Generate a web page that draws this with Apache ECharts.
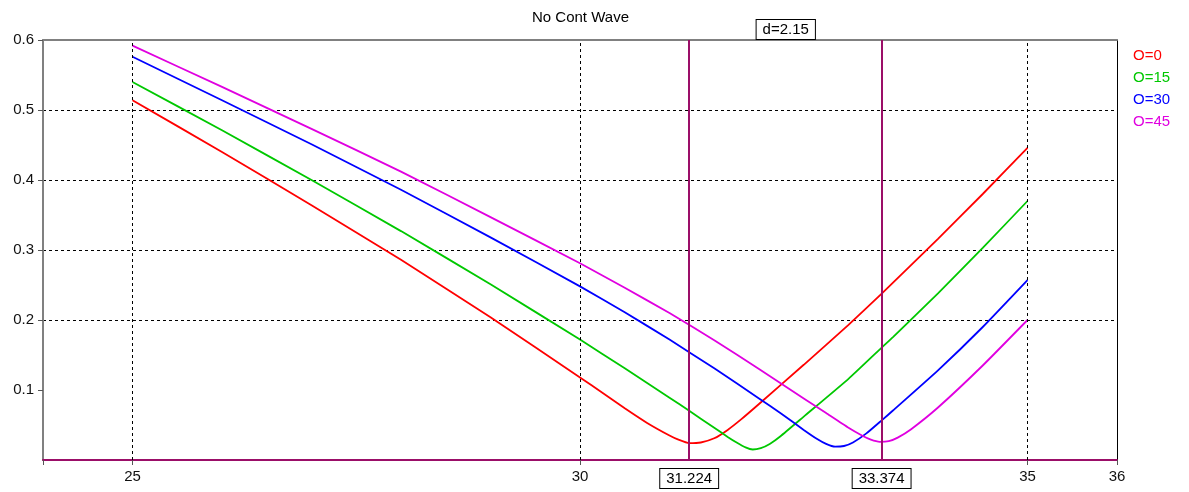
<!DOCTYPE html>
<html>
<head>
<meta charset="utf-8">
<script src="https://cdn.jsdelivr.net/npm/echarts@6/dist/echarts.min.js"></script>
<style>
html,body{margin:0;padding:0;background:#fff;}
#chart{width:1189px;height:492px;}
</style>
</head>
<body>
<div id="chart"></div>
<script>
// ---- data ----
const seriesNames = ['O=0', 'O=15', 'O=30', 'O=45'];
const seriesColors = ['#ff0000', '#00c800', '#0000ff', '#e000e0'];

const redX = [25, 26, 27, 28, 29, 30, 30.25, 30.5, 30.75, 31.0, 31.1, 31.22, 31.35, 31.5, 31.65, 31.8, 32, 32.5, 33, 33.374, 34, 34.5, 35];
const redY = [0.514, 0.440, 0.364, 0.286, 0.204, 0.118, 0.096, 0.074, 0.053, 0.035, 0.029, 0.024, 0.025, 0.031, 0.043, 0.058, 0.080, 0.136, 0.193, 0.238, 0.316, 0.380, 0.446];

const greenX = [25, 26, 27, 28, 29, 30, 30.5, 31, 31.224, 31.5, 31.65, 31.75, 31.85, 31.93, 32.02, 32.12, 32.24, 32.5, 33, 33.374, 33.5, 34, 34.5, 35];
const greenY = [0.540, 0.471, 0.400, 0.327, 0.251, 0.172, 0.131, 0.089, 0.070, 0.046, 0.033, 0.025, 0.018, 0.015, 0.017, 0.023, 0.034, 0.062, 0.116, 0.161, 0.176, 0.238, 0.303, 0.370];

const blueX = [25, 26, 27, 28, 29, 30, 30.5, 31, 31.5, 32, 32.25, 32.5, 32.65, 32.75, 32.85, 32.95, 33.05, 33.2, 33.374, 33.5, 34, 34.5, 35];
const blueY = [0.576, 0.514, 0.451, 0.386, 0.318, 0.248, 0.211, 0.172, 0.131, 0.088, 0.066, 0.043, 0.030, 0.023, 0.019, 0.020, 0.025, 0.038, 0.057, 0.071, 0.128, 0.190, 0.257];

const magentaX = [25, 26, 27, 28, 29, 30, 30.5, 31, 31.5, 32, 32.5, 32.75, 33.0, 33.15, 33.25, 33.35, 33.45, 33.55, 33.7, 34, 34.5, 35];
const magentaY = [0.592, 0.533, 0.473, 0.412, 0.347, 0.281, 0.246, 0.210, 0.171, 0.130, 0.088, 0.067, 0.046, 0.035, 0.029, 0.026, 0.027, 0.032, 0.044, 0.075, 0.135, 0.200];

const xLabels = [25, 30, 35, 36];
const xTicks = [24, 25, 30, 35, 36];
const xGridLines = [25, 30, 35];
const yTicks = [0.1, 0.2, 0.3, 0.4, 0.5, 0.6];
const cursors = [31.224, 33.374];
const titleText = 'No Cont Wave';

// ---- build ----
const xs = [redX, greenX, blueX, magentaX];
const ys = [redY, greenY, blueY, magentaY];
const FONT = 'Liberation Sans';
const cursorColor = '#9b0e68';

const curveSeries = seriesNames.map((n, i) => ({
  name: n,
  type: 'line',
  data: xs[i].map((x, j) => [x, ys[i][j]]),
  showSymbol: false,
  smooth: 0.15,
  lineStyle: { color: seriesColors[i], width: 1.8 },
  itemStyle: { color: seriesColors[i] },
  z: 3
}));

const gridSeries = {
  name: '_grid',
  type: 'line',
  data: [],
  z: 1,
  silent: true,
  markLine: {
    silent: true,
    symbol: 'none',
    animation: false,
    label: { show: false },
    lineStyle: { color: '#000', width: 1, type: [3, 3] },
    data: xGridLines.map(v => ({ xAxis: v }))
  }
};

const dText = 'd=' + (cursors[1] - cursors[0]).toFixed(2);
const boxLabel = {
  fontFamily: FONT, fontSize: 15, color: '#000',
  backgroundColor: '#fff', borderColor: '#000', borderWidth: 1,
  padding: [2, 6, 2, 6]
};

const cursorSeries = {
  name: '_cursor',
  type: 'line',
  data: [],
  z: 10,
  silent: true,
  markLine: {
    silent: true,
    symbol: 'none',
    animation: false,
    lineStyle: { color: cursorColor, width: 2, type: 'solid' },
    data: cursors.map(v => ({
      xAxis: v,
      label: Object.assign({ show: true, position: 'start', distance: 9, formatter: v.toFixed(3) }, boxLabel)
    })).concat([[
      { coord: [cursors[0], 0.6], lineStyle: { width: 0, color: 'transparent' },
        label: Object.assign({ show: true, position: 'middle', distance: 1, formatter: dText }, boxLabel) },
      { coord: [cursors[1], 0.6] }
    ]])
  }
};

const chart = echarts.init(document.getElementById('chart'), null, { renderer: 'canvas' });
chart.setOption({
  animation: false,
  backgroundColor: '#fff',
  textStyle: { fontFamily: FONT },
  title: {
    text: titleText,
    left: 527, top: 5,
    textStyle: { fontFamily: FONT, fontSize: 15, fontWeight: 'normal', color: '#000' }
  },
  legend: {
    orient: 'vertical',
    left: 1123, top: 43,
    itemWidth: 0, itemHeight: 0, itemGap: 7,
    icon: 'rect',
    selectedMode: false,
    textStyle: { fontFamily: FONT, fontSize: 15, lineHeight: 15, padding: 0 },
    data: seriesNames.map((n, i) => ({ name: n, textStyle: { color: seriesColors[i] } }))
  },
  grid: { left: 43, right: 72, top: 40, bottom: 32, containLabel: false },
  xAxis: [{
    type: 'value', min: 24, max: 36, position: 'bottom',
    axisLine: { onZero: false, lineStyle: { color: cursorColor, width: 2 } },
    axisTick: { show: true, customValues: xTicks, length: 5, lineStyle: { color: '#555' } },
    axisLabel: { customValues: xLabels, margin: 9, fontFamily: FONT, fontSize: 15, color: '#111' },
    splitLine: { show: false }
  }, {
    type: 'value', min: 24, max: 36, position: 'top',
    axisLine: { show: true, onZero: false, lineStyle: { color: '#808080', width: 2 } },
    axisTick: { show: false }, axisLabel: { show: false }, splitLine: { show: false }
  }],
  yAxis: [{
    type: 'value', min: 0, max: 0.6, interval: 0.1, position: 'left',
    axisLine: { show: true, onZero: false, lineStyle: { color: '#808080', width: 2 } },
    axisTick: { show: true, customValues: yTicks, length: 5, lineStyle: { color: '#555' } },
    axisLabel: {
      margin: 9, fontFamily: FONT, fontSize: 15, color: '#111',
      formatter: v => (v === 0 ? '' : v.toFixed(1))
    },
    splitLine: { show: true, showMinLine: false, showMaxLine: false, lineStyle: { color: '#000', width: 1, type: [3, 3] } }
  }, {
    type: 'value', min: 0, max: 0.6, position: 'right',
    axisLine: { show: true, onZero: false, lineStyle: { color: '#000', width: 1 } },
    axisTick: { show: false }, axisLabel: { show: false }, splitLine: { show: false }
  }],
  series: [gridSeries].concat(curveSeries).concat([cursorSeries])
});
</script>
</body>
</html>
